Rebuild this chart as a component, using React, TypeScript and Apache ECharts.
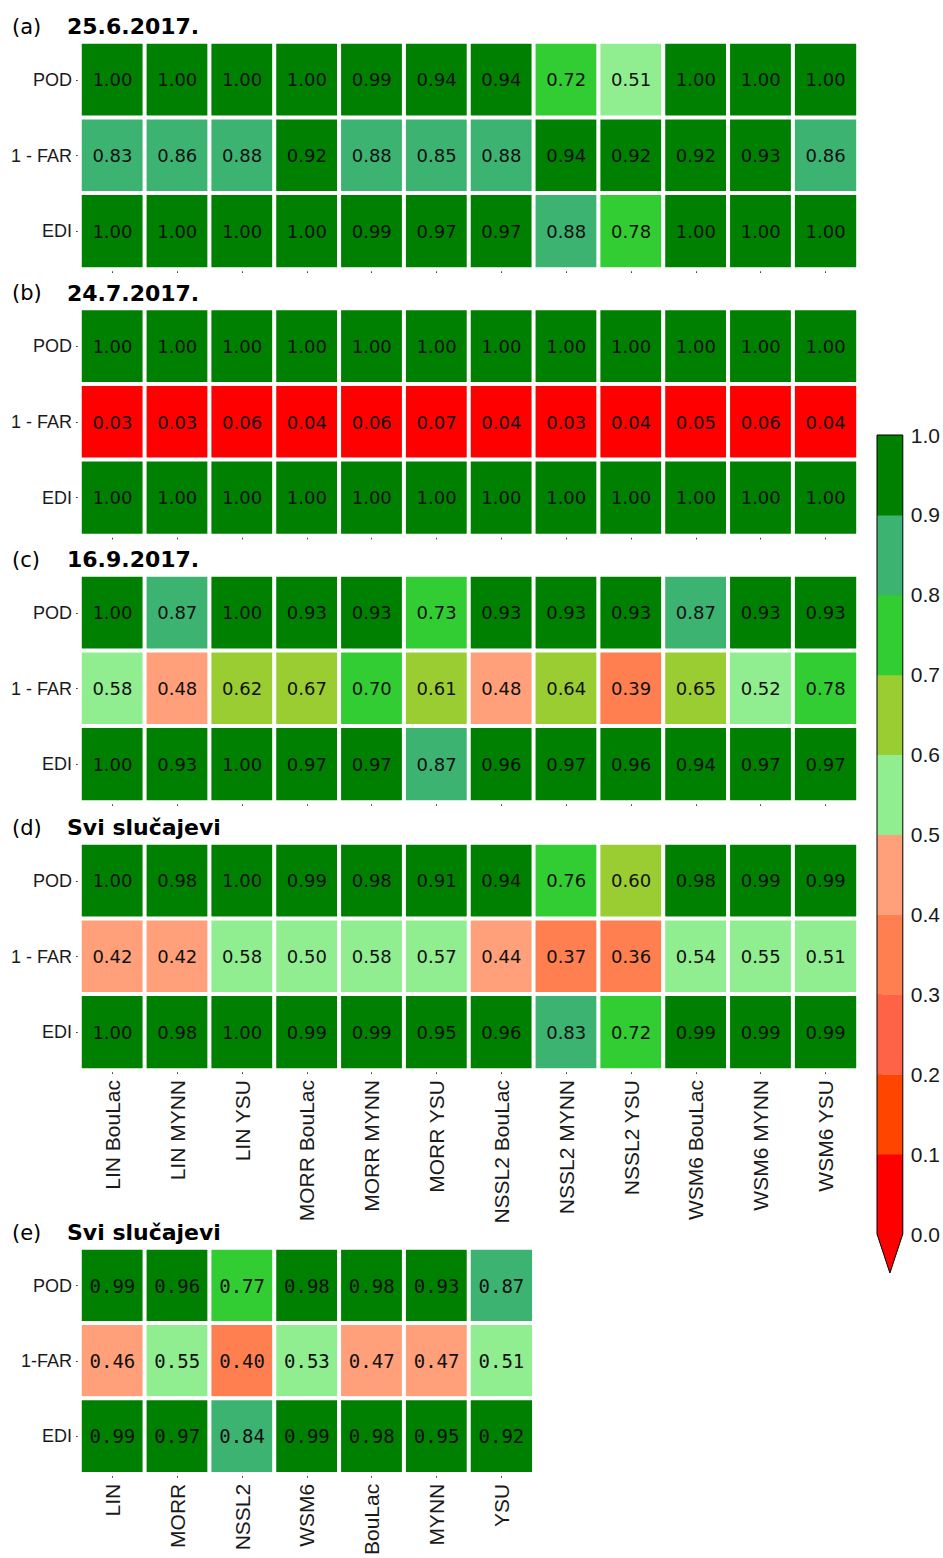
import React, { useEffect, useRef } from "react";
import * as echarts from "echarts";

// ---------- data ----------
const metrics = ["POD", "1 - FAR", "EDI"];
const metricsE = ["POD", "1-FAR", "EDI"];
const schemes = [
  "LIN BouLac", "LIN MYNN", "LIN YSU", "MORR BouLac", "MORR MYNN", "MORR YSU",
  "NSSL2 BouLac", "NSSL2 MYNN", "NSSL2 YSU", "WSM6 BouLac", "WSM6 MYNN", "WSM6 YSU",
];
const schemesE = ["LIN", "MORR", "NSSL2", "WSM6", "BouLac", "MYNN", "YSU"];
const panelLetters = ["(a)", "(b)", "(c)", "(d)", "(e)"];
const panelTitles = ["25.6.2017.", "24.7.2017.", "16.9.2017.", "Svi slučajevi", "Svi slučajevi"];

const podA = [1.0, 1.0, 1.0, 1.0, 0.99, 0.94, 0.94, 0.72, 0.51, 1.0, 1.0, 1.0];
const farA = [0.83, 0.86, 0.88, 0.92, 0.88, 0.85, 0.88, 0.94, 0.92, 0.92, 0.93, 0.86];
const ediA = [1.0, 1.0, 1.0, 1.0, 0.99, 0.97, 0.97, 0.88, 0.78, 1.0, 1.0, 1.0];

const podB = [1.0, 1.0, 1.0, 1.0, 1.0, 1.0, 1.0, 1.0, 1.0, 1.0, 1.0, 1.0];
const farB = [0.03, 0.03, 0.06, 0.04, 0.06, 0.07, 0.04, 0.03, 0.04, 0.05, 0.06, 0.04];
const ediB = [1.0, 1.0, 1.0, 1.0, 1.0, 1.0, 1.0, 1.0, 1.0, 1.0, 1.0, 1.0];

const podC = [1.0, 0.87, 1.0, 0.93, 0.93, 0.73, 0.93, 0.93, 0.93, 0.87, 0.93, 0.93];
const farC = [0.58, 0.48, 0.62, 0.67, 0.7, 0.61, 0.48, 0.64, 0.39, 0.65, 0.52, 0.78];
const ediC = [1.0, 0.93, 1.0, 0.97, 0.97, 0.87, 0.96, 0.97, 0.96, 0.94, 0.97, 0.97];

const podD = [1.0, 0.98, 1.0, 0.99, 0.98, 0.91, 0.94, 0.76, 0.6, 0.98, 0.99, 0.99];
const farD = [0.42, 0.42, 0.58, 0.5, 0.58, 0.57, 0.44, 0.37, 0.36, 0.54, 0.55, 0.51];
const ediD = [1.0, 0.98, 1.0, 0.99, 0.99, 0.95, 0.96, 0.83, 0.72, 0.99, 0.99, 0.99];

const podE = [0.99, 0.96, 0.77, 0.98, 0.98, 0.93, 0.87];
const farE = [0.46, 0.55, 0.398, 0.53, 0.47, 0.47, 0.51];
const ediE = [0.99, 0.97, 0.84, 0.99, 0.98, 0.95, 0.92];

const bandEdges = [0.0, 0.1, 0.2, 0.3, 0.4, 0.5, 0.6, 0.7, 0.8, 0.9, 1.0];
const bandColors = [
  "#FF0000", "#FF4500", "#FF6347", "#FF7F50", "#FFA07A",
  "#90EE90", "#9ACD32", "#32CD32", "#3CB371", "#008000",
];

// ---------- layout ----------
const gridLeft = 80;
const colW = 64.83;
const panelTops = [42, 308.5, 575, 843, 1248];
const panelHeights = [227, 227, 227, 227, 231];

export default function App() {
  const ref = useRef<HTMLDivElement>(null);

  useEffect(() => {
    if (!ref.current) return;
    const chart = echarts.init(ref.current, null, { renderer: "svg" });

    const panels = [
      { rows: [podA, farA, ediA], cats: schemes, ys: metrics, labels: false },
      { rows: [podB, farB, ediB], cats: schemes, ys: metrics, labels: false },
      { rows: [podC, farC, ediC], cats: schemes, ys: metrics, labels: false },
      { rows: [podD, farD, ediD], cats: schemes, ys: metrics, labels: true },
      { rows: [podE, farE, ediE], cats: schemesE, ys: metricsE, labels: true },
    ];

    const grids: any[] = [];
    const xAxes: any[] = [];
    const yAxes: any[] = [];
    const series: any[] = [];
    const graphics: any[] = [];

    panels.forEach((p, i) => {
      grids.push({
        left: gridLeft,
        top: panelTops[i],
        width: colW * p.cats.length,
        height: panelHeights[i],
      });
      xAxes.push({
        type: "category",
        gridIndex: i,
        data: p.cats,
        axisLine: { show: false },
        axisTick: { show: true, alignWithLabel: true, length: 4, lineStyle: { color: "#444" } },
        axisLabel: {
          show: p.labels,
          interval: 0,
          rotate: 90,
          margin: 10,
          fontSize: 21,
          fontFamily: "Liberation Sans",
          color: "#1a1a1a",
        },
        splitLine: { show: false },
      });
      yAxes.push({
        type: "category",
        gridIndex: i,
        data: p.ys,
        inverse: true,
        axisLine: { show: false },
        axisTick: { show: true, alignWithLabel: true, length: 4, lineStyle: { color: "#444" } },
        axisLabel: {
          margin: 8,
          fontSize: 18,
          fontFamily: "Liberation Sans",
          color: "#1a1a1a",
        },
        splitLine: { show: false },
      });
      const data: number[][] = [];
      p.rows.forEach((r, yi) => r.forEach((v, xi) => data.push([xi, yi, v])));
      series.push({
        type: "heatmap",
        xAxisIndex: i,
        yAxisIndex: i,
        data,
        silent: true,
        itemStyle: { borderColor: "#ffffff", borderWidth: 4 },
        label: {
          show: true,
          formatter: (q: any) => Number(q.value[2]).toFixed(2),
          fontSize: i === 4 ? 19 : 18,
          fontFamily: i === 4 ? "DejaVu Sans Mono" : "DejaVu Sans",
          color: "#111",
        },
        emphasis: { disabled: true },
      });
      const cy = panelTops[i] - 15.5;
      graphics.push({
        type: "text",
        x: 12,
        y: cy,
        style: {
          text: panelLetters[i],
          fontSize: 21,
          fontFamily: "DejaVu Sans",
          fill: "#000",
          verticalAlign: "middle",
        },
      });
      graphics.push({
        type: "text",
        x: 67,
        y: cy,
        style: {
          text: panelTitles[i],
          fontSize: 22,
          fontWeight: "bold",
          fontFamily: "DejaVu Sans",
          fill: "#000",
          verticalAlign: "middle",
        },
      });
    });

    // colorbar grid
    const cb = panels.length;
    grids.push({ left: 877, top: 435, width: 26, height: 799 });
    xAxes.push({ type: "value", gridIndex: cb, min: 0, max: 1, show: false });
    yAxes.push({
      type: "value",
      gridIndex: cb,
      min: 0,
      max: 1,
      interval: 0.1,
      position: "right",
      axisLine: { show: false },
      axisTick: { show: true, length: 5, lineStyle: { color: "#000" } },
      axisLabel: {
        margin: 8,
        fontSize: 21,
        fontFamily: "Liberation Sans",
        color: "#1a1a1a",
        formatter: (v: number) => v.toFixed(1),
      },
      splitLine: { show: false },
    });
    series.push({
      type: "custom",
      xAxisIndex: cb,
      yAxisIndex: cb,
      silent: true,
      clip: false,
      data: bandColors.map((_, k) => [bandEdges[k], bandEdges[k + 1]]),
      renderItem: (params: any, api: any) => {
        const lo = api.value(0);
        const hi = api.value(1);
        const p0 = api.coord([0, lo]);
        const p1 = api.coord([1, hi]);
        return {
          type: "rect",
          shape: { x: p0[0], y: p1[1], width: p1[0] - p0[0], height: p0[1] - p1[1] + 0.5 },
          style: { fill: bandColors[params.dataIndex] },
        };
      },
    });
    series.push({
      type: "custom",
      xAxisIndex: cb,
      yAxisIndex: cb,
      silent: true,
      clip: false,
      z: 5,
      data: [[0, 1]],
      renderItem: (_params: any, api: any) => {
        const b = api.coord([0, 0]);
        const t = api.coord([1, 1]);
        const tip = [(b[0] + t[0]) / 2, b[1] + 39];
        return {
          type: "group",
          children: [
            {
              type: "polygon",
              shape: { points: [[b[0], b[1]], [t[0], b[1]], tip] },
              style: { fill: bandColors[0] },
            },
            {
              type: "polygon",
              shape: { points: [[b[0], t[1]], [t[0], t[1]], [t[0], b[1]], tip, [b[0], b[1]]] },
              style: { fill: "none", stroke: "#000", lineWidth: 1 },
            },
          ],
        };
      },
    });

    chart.setOption({
      animation: false,
      backgroundColor: "#ffffff",
      grid: grids,
      xAxis: xAxes,
      yAxis: yAxes,
      visualMap: {
        type: "piecewise",
        show: false,
        dimension: 2,
        seriesIndex: [0, 1, 2, 3, 4],
        pieces: bandColors.map((c, k) => ({
          gte: bandEdges[k],
          lt: k === bandColors.length - 1 ? 1.001 : bandEdges[k + 1],
          color: c,
        })),
      },
      series,
      graphic: graphics,
    });

    return () => chart.dispose();
  }, []);

  return (
    <div
      ref={ref}
      style={{ position: "absolute", left: 0, top: 0, width: 943, height: 1558 }}
    />
  );
}
